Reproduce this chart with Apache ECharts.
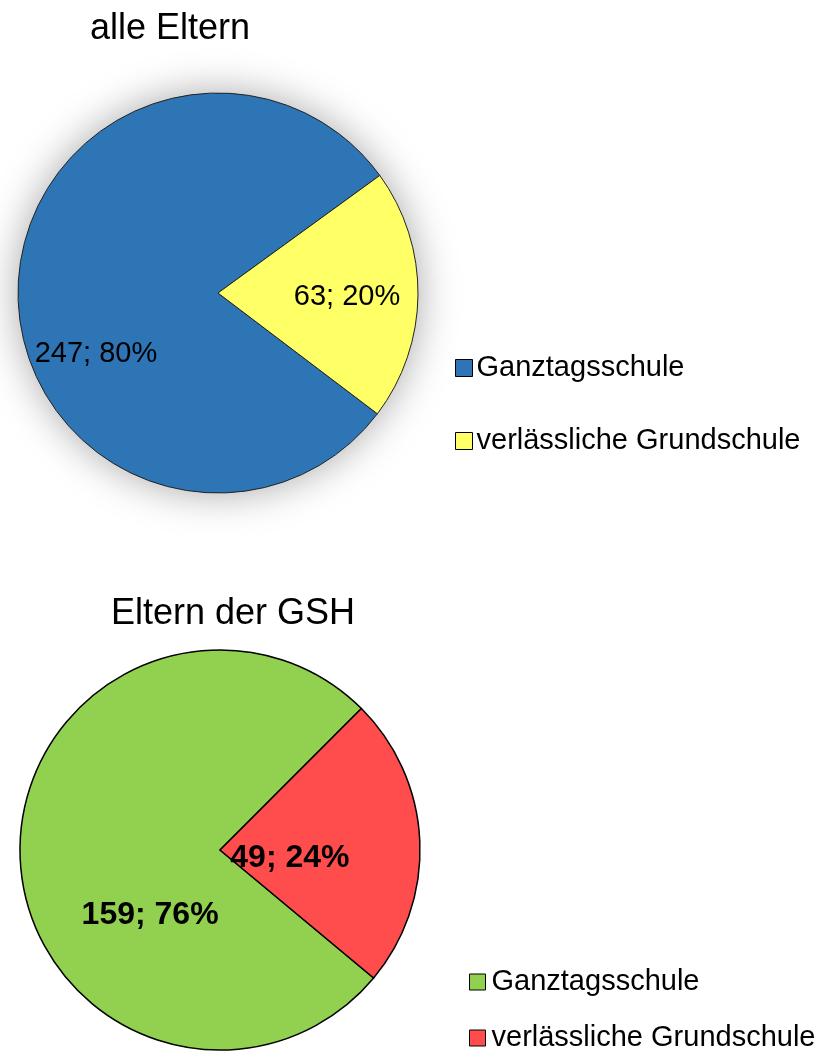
<!DOCTYPE html>
<html style="height: 100%">
<head>
	<meta charset="utf-8">
</head>
<body style="height: 100%; margin: 0; background: #fff">
<div id="container" style="width: 821px; height: 1056px"></div>
<script type="text/javascript" src="https://cdn.jsdelivr.net/npm/echarts@6/dist/echarts.min.js"></script>
<script type="text/javascript">
    var categories = ['Ganztagsschule', 'verlässliche Grundschule'];
    var alleEltern = [247, 63];
    var elternGSH = [159, 49];
    var titles = ['alle Eltern', 'Eltern der GSH'];

    var topColors = ['#2E75B6', '#FFFF66'];
    var bottomColors = ['#92D050', '#FF4D4D'];

    // label shifts relative to the default 'inside' spot
    var topShift = [[-19, 62], [26, 3]];
    var bottomShift = [[33, 61], [-33, 13]];

    function pieData(values, colors) {
        return values.map(function (v, i) {
            return { name: categories[i], value: v, itemStyle: { color: colors[i] } };
        });
    }

    function legendData(colors) {
        return categories.map(function (c, i) {
            return { name: c, itemStyle: { color: colors[i], borderColor: '#000', borderWidth: 1 } };
        });
    }

    function startAngleFor(values) {
        // first slice runs clockwise up to the right-hand wedge
        var total = values[0] + values[1];
        return values[0] / total * 360;
    }

    var font = '"Liberation Sans", Arial, sans-serif';

    var myChart = echarts.init(document.getElementById('container'));

    var option = {
        backgroundColor: '#ffffff',
        animation: false,
        title: [{
            text: titles[0], left: 170, top: 11, textAlign: 'center', padding: 0,
            textStyle: { fontSize: 36, fontWeight: 'normal', color: '#000', fontFamily: font }
        }, {
            text: titles[1], left: 233, top: 596, textAlign: 'center', padding: 0,
            textStyle: { fontSize: 36, fontWeight: 'normal', color: '#000', fontFamily: font }
        }],
        legend: [{
            data: legendData(topColors), orient: 'vertical', left: 455, top: 353, padding: 0,
            itemWidth: 17, itemHeight: 17, itemGap: 43, icon: 'rect',
            textStyle: { fontSize: 29, lineHeight: 30, color: '#000', fontFamily: font, padding: [0, 0, 0, -1] }
        }, {
            data: legendData(bottomColors), orient: 'vertical', left: 469, top: 967, padding: 0,
            itemWidth: 16, itemHeight: 16, itemGap: 26, icon: 'rect',
            textStyle: { fontSize: 29, lineHeight: 30, color: '#000', fontFamily: font, padding: [0, 0, 0, 1] }
        }],
        series: [{
            // soft shadow behind the top pie
            type: 'pie', silent: true, center: [218, 293], radius: 200,
            label: { show: false }, labelLine: { show: false },
            data: [{ value: 1, name: '', itemStyle: { color: '#fff', shadowBlur: 40, shadowColor: 'rgba(0,0,0,0.35)' } }]
        }, {
            type: 'pie', center: [218, 293], radius: 200,
            startAngle: 36 + startAngleFor(alleEltern), clockwise: true,
            percentPrecision: 0,
            itemStyle: { borderColor: '#222', borderWidth: 1 },
            label: {
                position: 'inside', formatter: '{c}; {d}%',
                fontSize: 29, color: '#000', fontFamily: font
            },
            labelLayout: function (p) {
                return { dx: topShift[p.dataIndex][0], dy: topShift[p.dataIndex][1] };
            },
            data: pieData(alleEltern, topColors)
        }, {
            type: 'pie', center: [220, 850], radius: 200,
            startAngle: 45 + startAngleFor(elternGSH), clockwise: true,
            percentPrecision: 0,
            itemStyle: { borderColor: '#000', borderWidth: 1.5 },
            label: {
                position: 'inside', formatter: '{c}; {d}%',
                fontSize: 32, fontWeight: 'bold', color: '#000', fontFamily: font
            },
            labelLayout: function (p) {
                return { dx: bottomShift[p.dataIndex][0], dy: bottomShift[p.dataIndex][1] };
            },
            data: pieData(elternGSH, bottomColors)
        }]
    };

    myChart.setOption(option);
</script>
</body>
</html>
